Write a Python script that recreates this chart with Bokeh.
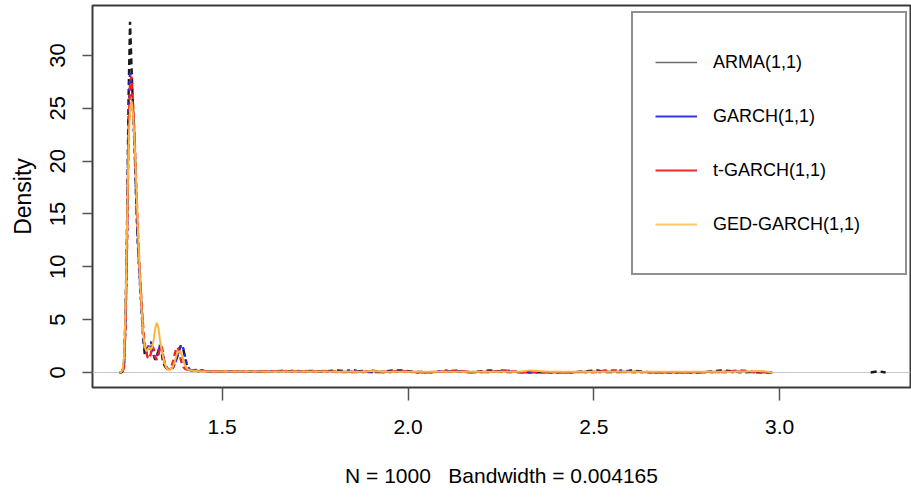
from bokeh.plotting import figure
from bokeh.models import Range1d, FixedTicker, Span, Legend, LegendItem, ColumnDataSource
from bokeh.embed import file_html
from bokeh.resources import INLINE

# ---------------- data ----------------
series_names = ["ARMA(1,1)", "GARCH(1,1)", "t-GARCH(1,1)", "GED-GARCH(1,1)"]

x_main = [1.224, 1.228, 1.232, 1.236, 1.240, 1.244, 1.248, 1.252, 1.256, 1.260,
          1.264, 1.268, 1.272, 1.276, 1.280, 1.284, 1.288, 1.292, 1.296, 1.300,
          1.304, 1.308, 1.312, 1.316, 1.320, 1.324, 1.328, 1.332, 1.336, 1.340,
          1.344, 1.348, 1.352, 1.356, 1.360, 1.364, 1.368, 1.372, 1.376, 1.380,
          1.384, 1.388, 1.392, 1.396, 1.400, 1.404, 1.408, 1.412, 1.416, 1.420,
          1.424, 1.428, 1.432, 1.436, 1.440, 1.444, 1.448, 1.452, 1.456, 1.460]

x_tail = [1.48, 1.50, 1.53, 1.56, 1.60, 1.63, 1.66, 1.68, 1.70, 1.72,
          1.74, 1.77, 1.81, 1.85, 1.88, 1.90, 1.93, 1.96, 1.98, 2.02,
          2.06, 2.11, 2.13, 2.17, 2.22, 2.26, 2.30, 2.33, 2.38, 2.44,
          2.51, 2.53, 2.56, 2.58, 2.60, 2.65, 2.72, 2.79, 2.85, 2.89,
          2.95, 2.98]

arma_main = [0, 0, 0.1, 1.0, 5.5, 14.0, 26.0, 33.2, 29.0, 25.0,
             22.0, 17.0, 13.0, 10.5, 8.0, 5.5, 3.0, 1.6, 2.0, 2.6,
             2.2, 2.7, 2.3, 1.6, 1.2, 1.6, 2.0, 2.6, 2.1, 1.2,
             0.7, 0.5, 0.4, 0.3, 0.3, 0.4, 0.5, 0.8, 1.2, 1.6,
             2.1, 2.5, 2.5, 2.1, 1.4, 0.8, 0.4, 0.25, 0.2, 0.2,
             0.25, 0.2, 0.15, 0.12, 0.15, 0.2, 0.15, 0.1, 0.1, 0.1]
garch_main = [0, 0, 0.1, 0.8, 5.0, 13.0, 24.0, 28.5, 27.0, 24.5,
              21.5, 17.0, 13.0, 10.0, 7.5, 5.2, 3.2, 2.2, 1.8, 2.2,
              2.8, 2.9, 2.4, 1.6, 1.3, 1.5, 1.9, 2.5, 2.6, 1.8,
              1.0, 0.6, 0.4, 0.3, 0.3, 0.35, 0.5, 0.8, 1.2, 1.7,
              2.2, 2.5, 2.6, 2.2, 1.5, 0.9, 0.5, 0.3, 0.2, 0.2,
              0.2, 0.25, 0.2, 0.15, 0.12, 0.15, 0.2, 0.15, 0.1, 0.1]
tgarch_main = [0, 0, 0.05, 0.6, 4.5, 12.0, 22.5, 27.5, 28.0, 25.5,
               22.5, 18.5, 14.5, 11.0, 8.5, 6.0, 4.0, 2.6, 1.8, 1.4,
               1.3, 1.8, 2.5, 2.2, 1.5, 1.2, 1.6, 2.2, 2.5, 2.0,
               1.1, 0.6, 0.35, 0.3, 0.35, 0.6, 1.1, 1.7, 2.2, 2.4,
               2.0, 1.3, 0.8, 0.5, 0.35, 0.3, 0.25, 0.2, 0.2, 0.18,
               0.2, 0.22, 0.18, 0.15, 0.12, 0.12, 0.15, 0.15, 0.12, 0.1]
ged_main = [0, 0.05, 0.2, 1.5, 6.0, 14.0, 21.5, 25.0, 25.7, 24.5,
            22.0, 18.5, 14.5, 11.0, 8.0, 5.5, 3.5, 2.4, 2.0, 2.2,
            2.4, 2.2, 2.4, 3.2, 4.2, 4.7, 4.3, 3.2, 2.3, 1.6,
            1.0, 0.6, 0.35, 0.25, 0.25, 0.35, 0.6, 1.0, 1.5, 1.9,
            2.0, 1.9, 1.6, 1.1, 0.7, 0.4, 0.3, 0.25, 0.2, 0.18,
            0.15, 0.15, 0.15, 0.12, 0.12, 0.12, 0.1, 0.1, 0.1, 0.1]

arma_tail = [0.1, 0.08, 0.12, 0.08, 0.1, 0.08, 0.15, 0.12, 0.15, 0.1,
             0.15, 0.1, 0.2, 0.05, 0.15, 0.05, 0.05, 0.2, 0.2, 0.05,
             0.03, 0.1, 0.1, 0.03, 0.2, 0.05, 0.03, 0.03, 0.03, 0.03,
             0.2, 0.05, 0.05, 0.05, 0.2, 0.03, 0.03, 0.03, 0.2, 0.05,
             0.02, 0]
garch_tail = [0.1, 0.1, 0.08, 0.1, 0.08, 0.1, 0.12, 0.15, 0.1, 0.15,
              0.12, 0.1, 0.05, 0.25, 0.05, 0.05, 0.05, 0.05, 0.1, 0.03,
              0.03, 0.2, 0.1, 0.03, 0.05, 0.2, 0.03, 0.03, 0.03, 0.03,
              0.05, 0.05, 0.15, 0.2, 0.05, 0.03, 0.03, 0.03, 0.05, 0.05,
              0.02, 0]
tgarch_tail = [0.12, 0.1, 0.1, 0.08, 0.1, 0.1, 0.15, 0.1, 0.12, 0.1,
               0.1, 0.15, 0.05, 0.05, 0.05, 0.2, 0.05, 0.1, 0.15, 0.03,
               0.03, 0.1, 0.2, 0.03, 0.05, 0.2, 0.03, 0.03, 0.03, 0.03,
               0.05, 0.2, 0.2, 0.05, 0.05, 0.03, 0.03, 0.03, 0.05, 0.2,
               0.02, 0]
ged_tail = [0.1, 0.1, 0.1, 0.1, 0.1, 0.08, 0.1, 0.1, 0.1, 0.1,
            0.1, 0.1, 0.06, 0.06, 0.06, 0.15, 0.06, 0.06, 0.06, 0.06,
            0.06, 0.06, 0.06, 0.06, 0.06, 0.06, 0.06, 0.2, 0.06, 0.06,
            0.06, 0.06, 0.06, 0.06, 0.06, 0.06, 0.06, 0.06, 0.06, 0.06,
            0.15, 0]

# last isolated ARMA observation
arma_end_x = [3.245, 3.265, 3.285]
arma_end_y = [0, 0.12, 0]

x_ticks = [1.5, 2.0, 2.5, 3.0]
x_tick_labels = ["1.5", "2.0", "2.5", "3.0"]
y_ticks = [0, 5, 10, 15, 20, 25, 30]
x_title = "N = 1000\u00a0\u00a0\u00a0Bandwidth = 0.004165"
y_title = "Density"

# ---------------- figure ----------------
FONT = "Liberation Sans"

p = figure(width=911, height=498, output_backend="svg", toolbar_location=None,
           x_range=Range1d(1.151, 3.352), y_range=Range1d(-1.42, 34.73),
           min_border_left=92, min_border_right=1, min_border_top=5,
           min_border_bottom=111)
p.background_fill_color = "white"
p.border_fill_color = "white"
p.outline_line_color = "#3a3a3a"
p.outline_line_width = 2
p.xgrid.visible = False
p.ygrid.visible = False

for ax in (p.xaxis, p.yaxis):
    ax.axis_line_color = None
    ax.major_tick_in = 0
    ax.minor_tick_line_color = None
    ax.major_tick_line_color = "#555555"
    ax.major_tick_line_width = 1.5
    ax.major_label_text_font = FONT
    ax.major_label_text_color = "black"
    ax.axis_label_text_font = FONT
    ax.axis_label_text_font_style = "normal"
    ax.axis_label_text_color = "black"

p.xaxis.ticker = FixedTicker(ticks=x_ticks)
p.xaxis.major_label_overrides = {t: s for t, s in zip(x_ticks, x_tick_labels)}
p.xaxis.major_tick_out = 13
p.xaxis.major_label_standoff = 19
p.xaxis.major_label_text_font_size = "21px"
p.xaxis.axis_label = x_title
p.xaxis.axis_label_text_font_size = "21px"
p.xaxis.axis_label_standoff = 27

p.yaxis.ticker = FixedTicker(ticks=y_ticks)
p.yaxis.major_tick_out = 10
p.yaxis.major_label_orientation = "vertical"
p.yaxis.major_label_standoff = 17
p.yaxis.major_label_text_font_size = "22px"
p.yaxis.axis_label = y_title
p.yaxis.axis_label_text_font_size = "23px"
p.yaxis.axis_label_standoff = 12

zero = Span(location=0, dimension="width", line_color="#c8c8c8", line_width=1.2,
            level="underlay")
p.add_layout(zero)

# curves
p.line(x_main + x_tail, arma_main + arma_tail, line_color="#1a1a1a",
       line_width=2.4, line_dash="6 4")
p.line(arma_end_x, arma_end_y, line_color="#1a1a1a", line_width=2.4, line_dash="6 4")
p.line(x_main + x_tail, garch_main + garch_tail, line_color="#2828f0",
       line_width=2.4, line_dash="3 4", line_dash_offset=3)
p.line(x_main + x_tail, tgarch_main + tgarch_tail, line_color="#f02020",
       line_width=2.4, line_dash="6 4", line_dash_offset=5)
p.line(x_main + x_tail, ged_main + ged_tail, line_color="#fbb540",
       line_width=2.0)

# legend (solid sample lines, as in the reference)
leg_colors = ["#6e6e6e", "#3535ee", "#ee2a2a", "#ffc66e"]
leg_widths = [1.5, 2.2, 2.2, 1.8]
items = []
for name, c, w in zip(series_names, leg_colors, leg_widths):
    src = ColumnDataSource(data=dict(x=[float("nan")], y=[float("nan")]))
    r = p.line("x", "y", source=src, line_color=c, line_width=w)
    items.append(LegendItem(label=name, renderers=[r]))

legend = Legend(items=items, location=(539, 112), padding=22, spacing=0,
                label_height=54, glyph_height=54, glyph_width=42,
                label_standoff=16, label_width=170, margin=0,
                border_line_color="#222222", border_line_width=2,
                background_fill_color="white", background_fill_alpha=1,
                label_text_font=FONT, label_text_font_size="18px",
                label_text_color="black")
p.add_layout(legend)

open("out.html", "w").write(file_html(p, INLINE))
